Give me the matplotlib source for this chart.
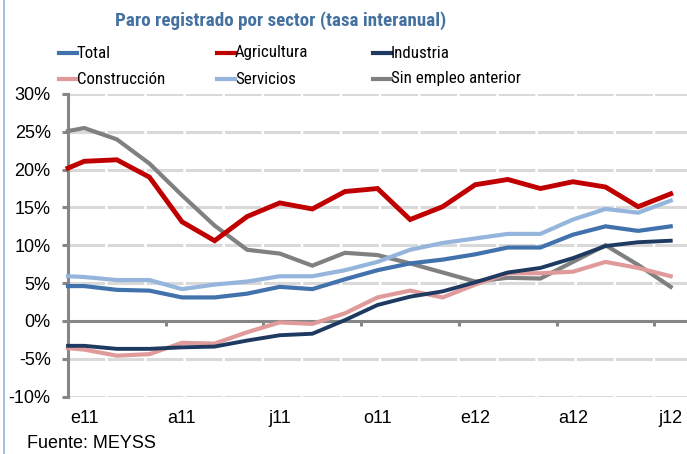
import matplotlib
matplotlib.use("Agg")
import matplotlib.pyplot as plt
from matplotlib.lines import Line2D
from matplotlib import font_manager

# ---- data ----
x_pos = [-0.5] + list(range(19))
tick_labels = ["e11", "a11", "j11", "o11", "e12", "a12", "j12"]
tick_label_pos = [0, 3, 6, 9, 12, 15, 18]

total = [4.6, 4.6, 4.1, 4.0, 3.1, 3.1, 3.6, 4.5, 4.2, 5.5, 6.7, 7.6, 8.1, 8.8, 9.7, 9.7, 11.4, 12.5, 11.9, 12.5]
agricultura = [20.2, 21.1, 21.3, 19.0, 13.1, 10.6, 13.8, 15.6, 14.8, 17.1, 17.5, 13.4, 15.1, 18.0, 18.7, 17.5, 18.4, 17.7, 15.1, 16.8]
industria = [-3.3, -3.3, -3.7, -3.7, -3.5, -3.4, -2.6, -1.9, -1.7, 0.1, 2.1, 3.2, 3.9, 5.1, 6.4, 7.0, 8.3, 9.9, 10.4, 10.6]
construccion = [-3.6, -3.8, -4.6, -4.4, -2.9, -3.0, -1.5, -0.2, -0.4, 1.0, 3.1, 4.0, 3.1, 4.8, 6.3, 6.3, 6.5, 7.8, 7.0, 5.9]
servicios = [5.9, 5.8, 5.4, 5.4, 4.2, 4.8, 5.2, 5.9, 5.9, 6.7, 7.8, 9.4, 10.3, 10.9, 11.5, 11.5, 13.4, 14.8, 14.3, 15.9]
sin_empleo = [25.1, 25.5, 24.0, 20.8, 16.6, 12.6, 9.4, 8.9, 7.3, 9.0, 8.7, 7.6, 6.4, 5.2, 5.7, 5.6, 7.8, 10.0, 7.4, 4.5]

series_names = ["Total", "Agricultura", "Industria", "Construcción", "Servicios", "Sin empleo anterior"]
series_values = [total, agricultura, industria, construccion, servicios, sin_empleo]
colors = ["#4272ac", "#c00000", "#1f3a60", "#e09a9a", "#95b5dc", "#808080"]
widths = [3.0, 3.5, 2.8, 3.0, 3.0, 3.0]

yticks = [-10, -5, 0, 5, 10, 15, 20, 25, 30]

names = {f.name for f in font_manager.fontManager.ttflist}
def pick(cands, default="Liberation Sans"):
    for c in cands:
        if c in names:
            return c
    return default

narrow_bold = pick(["Liberation Sans Narrow", "Nimbus Sans Narrow", "Roboto Condensed",
                    "IBM Plex Sans Condensed", "Fira Sans Condensed"])
narrow_reg = pick(["Liberation Sans Narrow", "Nimbus Sans Narrow", "Roboto Condensed",
                   "Archivo Narrow", "IBM Plex Sans Condensed", "Fira Sans Condensed"])
base = "Liberation Sans"

W, H = 687, 454
fig = plt.figure(figsize=(W / 100, H / 100), dpi=100)
ax = fig.add_axes([68 / W, 1 - 396.5 / H, (W - 68) / W, (396.5 - 94) / H])

ax.set_xlim(-0.5, 18.5)
ax.set_ylim(-10, 30)

# gridlines
for yv in yticks:
    if yv != 0:
        ax.axhline(yv, color="#d9d9d9", lw=2.2, ls=(0, (12, 0.8)), zorder=1)

for i in [5, 4, 3, 2, 0, 1]:
    ax.plot(x_pos, series_values[i], color=colors[i], lw=widths[i],
            solid_joinstyle="miter", zorder=4 if i == 1 else 3, clip_on=False)

# spines
for s in ["top", "right"]:
    ax.spines[s].set_visible(False)
ax.spines["left"].set_color("#868686")
ax.spines["left"].set_linewidth(2.2)
ax.spines["bottom"].set_position(("data", 0))
ax.spines["bottom"].set_color("#868686")
ax.spines["bottom"].set_linewidth(2.2)
ax.spines["bottom"].set_zorder(2)

ax.set_yticks(yticks)
ax.set_yticklabels([f"{v}%" for v in yticks], fontsize=13, family=base)
ax.tick_params(axis="y", length=4.5, width=2.2, color="#868686", pad=8)

ax.set_xticks(tick_label_pos)
ax.set_xticklabels(tick_labels, fontsize=13, family=base)
ax.set_xticks([-0.5 + 3 * k for k in range(7)], minor=True)
ax.tick_params(axis="x", which="major", length=0, pad=64)
ax.tick_params(axis="x", which="minor", length=3.5, width=2.2, color="#868686", direction="out")

# title
fig.text(281 / W, 1 - 21 / H, "Paro registrado por sector (tasa interanual)",
         ha="center", va="center", fontsize=13.7, fontweight="bold",
         color="#44719f", family=narrow_bold)

# legend (manual layout)
leg_cols = [59, 217, 373]
leg_rows = [53, 79]
for i, name in enumerate(series_names):
    r, c = divmod(i, 3)
    x0 = leg_cols[c]
    y0 = 1 - leg_rows[r] / H
    fig.add_artist(Line2D([x0 / W, (x0 + 18) / W], [y0, y0], color=colors[i], lw=3.0))
    fig.text((x0 + 18) / W, y0, name, ha="left", va="center", fontsize=12.2,
             family=narrow_reg, color="black")

# source
fig.text(27 / W, 1 - 443 / H, "Fuente: MEYSS", ha="left", va="center", fontsize=13, family=base)

# left frame line
fig.add_artist(Line2D([4 / W, 4 / W], [0, 1], color="#95b3d7", lw=1.2))

fig.savefig("out.png", dpi=100)
